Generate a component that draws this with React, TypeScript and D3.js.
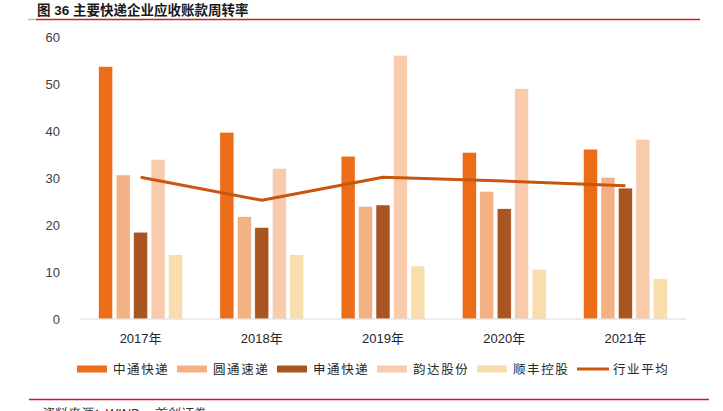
import React from 'react';
import * as d3 from 'd3';

const years = ['2017年', '2018年', '2019年', '2020年', '2021年'];
const seriesNames = ['中通快递', '圆通速递', '申通快递', '韵达股份', '顺丰控股'];
const legendNames = ['中通快递', '圆通速递', '申通快递', '韵达股份', '顺丰控股', '行业平均'];
const zto = [53.8, 39.8, 34.7, 35.5, 36.2];
const yto = [30.7, 21.8, 24.0, 27.2, 30.2];
const sto = [18.5, 19.5, 24.3, 23.5, 27.9];
const yunda = [34.0, 32.1, 56.2, 49.1, 38.3];
const sf = [13.7, 13.7, 11.3, 10.6, 8.6];
const industryAvg = [30.2, 25.3, 30.2, 29.4, 28.4];
const yTicks = [0, 10, 20, 30, 40, 50, 60];

const barColors = ['#EC6C18', '#F4B183', '#A85522', '#F8CBAD', '#F7DEAC'];
const lineColor = '#C9560F';

const W = 723;
const H = 411;

const App: React.FC = () => {
  const series = [zto, yto, sto, yunda, sf];

  const x0 = d3.scaleBand<string>()
    .domain(years)
    .range([80, 686])
    .paddingInner(0.28)
    .paddingOuter(0.14);

  const x1 = d3.scaleBand<number>()
    .domain(d3.range(seriesNames.length))
    .range([0, x0.bandwidth()])
    .paddingInner(0.2)
    .paddingOuter(0.1);

  const y = d3.scaleLinear().domain([0, 60]).range([319, 37.5]);

  const line = d3.line<number>()
    .x((_, i) => (x0(years[i]) ?? 0) + x0.bandwidth() / 2)
    .y(d => y(d));

  const cjk = '"Liberation Sans", Arial, "Noto Sans CJK SC", sans-serif';

  return (
    <svg
      width={W}
      height={H}
      style={{ position: 'absolute', left: 0, top: 0, background: '#fff' }}
    >
      {/* title */}
      <text x={37} y={15} fontSize={13.5} fontWeight="bold" fill="#1a1a1a" fontFamily={cjk}>
        图 36 主要快递企业应收账款周转率
      </text>
      <line x1={28} x2={36} y1={19.5} y2={19.5} stroke="#bfbfbf" strokeWidth={1.5} />
      <line x1={36} x2={700} y1={19.5} y2={19.5} stroke="#D71920" strokeWidth={1.5} />

      {/* y axis labels */}
      {yTicks.map(t => (
        <text
          key={t}
          x={60}
          y={y(t)}
          dy="0.35em"
          textAnchor="end"
          fontSize={13}
          fill="#404040"
          fontFamily='"Liberation Sans", Arial, sans-serif'
        >
          {t}
        </text>
      ))}

      {/* bars */}
      {years.map((yr, i) => (
        <g key={yr} transform={`translate(${x0(yr)},0)`}>
          {series.map((s, j) => (
            <rect
              key={j}
              x={x1(j)}
              y={y(s[i])}
              width={x1.bandwidth()}
              height={y(0) - y(s[i])}
              fill={barColors[j]}
              stroke="#fff"
              strokeWidth={0.5}
            />
          ))}
        </g>
      ))}

      {/* baseline */}
      <line x1={80} x2={686} y1={y(0)} y2={y(0)} stroke="#D9D9D9" strokeWidth={1.2} />

      {/* industry average */}
      <path d={line(industryAvg) ?? ''} fill="none" stroke={lineColor} strokeWidth={3} strokeLinejoin="round" />

      {/* x labels */}
      {years.map(yr => (
        <text
          key={yr}
          x={(x0(yr) ?? 0) + x0.bandwidth() / 2}
          y={343}
          textAnchor="middle"
          fontSize={13}
          fill="#262626"
          fontFamily={cjk}
        >
          {yr}
        </text>
      ))}

      {/* legend */}
      {legendNames.map((name, i) => {
        const lx = 77 + i * 100;
        return (
          <g key={i}>
            {i < 5 ? (
              <rect x={lx} y={365.5} width={30} height={7} fill={barColors[i]} />
            ) : (
              <line x1={lx} x2={lx + 32} y1={369} y2={369} stroke={lineColor} strokeWidth={3} />
            )}
            <text
              x={lx + 36}
              y={373.5}
              fontSize={12.5}
              letterSpacing={1.6}
              fill="#262626"
              fontFamily='"Noto Sans CJK SC", sans-serif'
            >
              {name}
            </text>
          </g>
        );
      })}

      {/* footer */}
      <line x1={29} x2={709} y1={399.5} y2={399.5} stroke="#D71920" strokeWidth={1.5} />
      <text x={40} y={418} fontSize={13} fontStyle="italic" fill="#333" fontFamily={cjk}>
        资料来源：WIND，首创证券
      </text>
    </svg>
  );
};

export default App;
